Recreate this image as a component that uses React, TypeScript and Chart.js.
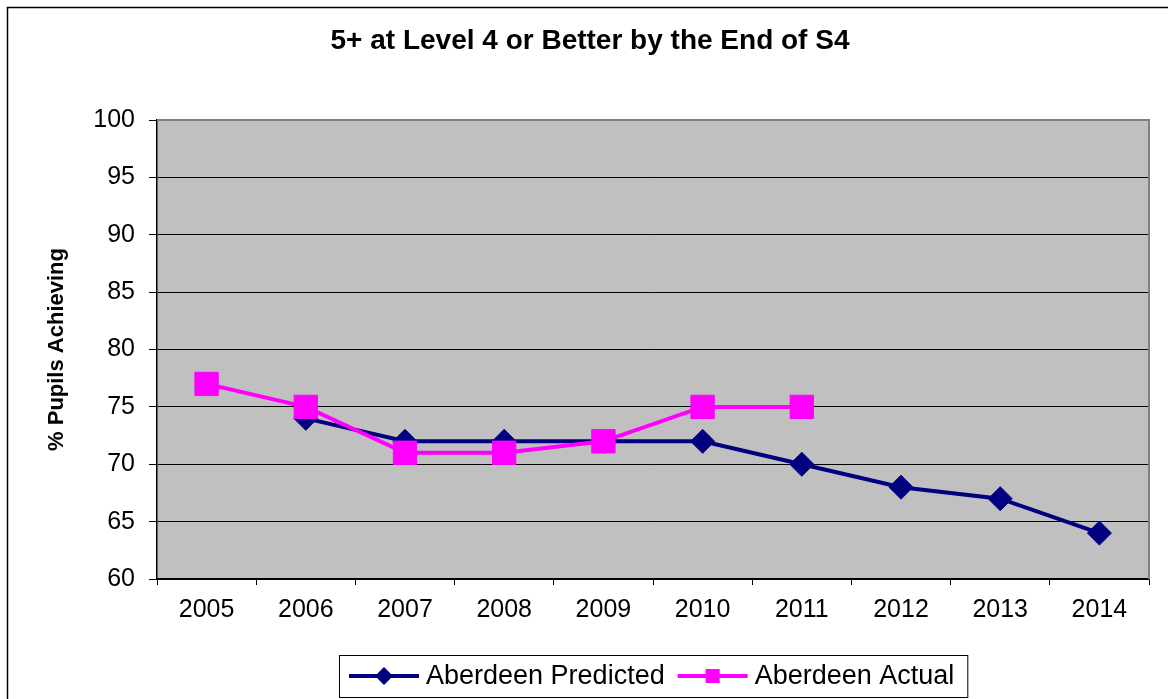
import { useEffect, useRef } from 'react';
import { Chart, registerables } from 'chart.js';

Chart.register(...registerables);

const years = ['2005', '2006', '2007', '2008', '2009', '2010', '2011', '2012', '2013', '2014'];
const predicted: (number | null)[] = [null, 74, 72, 72, 72, 72, 70, 68, 67, 64];
const actual: (number | null)[] = [77, 75, 71, 71, 72, 75, 75, null, null, null];
const seriesNames = ['Aberdeen Predicted', 'Aberdeen Actual'];
const chartTitle = '5+ at Level 4 or Better by the End of S4';
const yTitle = '% Pupils Achieving';
const yMin = 60;
const yMax = 100;
const yStep = 5;

const FONT = '"Liberation Sans", Arial, Helvetica, sans-serif';
const NAVY = '#000080';
const MAGENTA = '#FF00FF';

const framePlugin = {
  id: 'frameBg',
  beforeDraw(chart: any) {
    const { ctx, chartArea: a } = chart;
    ctx.save();
    ctx.fillStyle = '#C0C0C0';
    ctx.fillRect(a.left, a.top, a.right - a.left, a.bottom - a.top);
    ctx.strokeStyle = '#000';
    ctx.lineWidth = 1.5;
    ctx.beginPath();
    ctx.moveTo(7.5, chart.height + 2);
    ctx.lineTo(7.5, 7.5);
    ctx.lineTo(chart.width + 2, 7.5);
    ctx.stroke();
    ctx.restore();
  },
  beforeDatasetsDraw(chart: any) {
    const { ctx, chartArea: a } = chart;
    ctx.save();
    ctx.strokeStyle = '#808080';
    ctx.lineWidth = 2;
    ctx.beginPath();
    ctx.moveTo(a.left, a.top);
    ctx.lineTo(a.right, a.top);
    ctx.lineTo(a.right, a.bottom);
    ctx.stroke();
    ctx.restore();
  },
};

function drawMarker(ctx: CanvasRenderingContext2D, style: string, x: number, y: number, color: string) {
  ctx.fillStyle = color;
  ctx.beginPath();
  if (style === 'rectRot') {
    const r = 9;
    ctx.moveTo(x - r, y);
    ctx.lineTo(x, y - r);
    ctx.lineTo(x + r, y);
    ctx.lineTo(x, y + r);
    ctx.closePath();
  } else {
    const s = 14;
    ctx.rect(x - s / 2, y - s / 2, s, s);
  }
  ctx.fill();
}

const legendPlugin = {
  id: 'boxLegend',
  afterDraw(chart: any) {
    const { ctx, chartArea: a } = chart;
    ctx.save();
    ctx.font = `27px ${FONT}`;
    const datasets = chart.data.datasets;
    const widths = datasets.map((ds: any) => ctx.measureText(ds.label).width);
    const padL = 10;
    const lineLen = 70;
    const gap = 7;
    const itemGap = 13;
    const padR = 13;
    let total = padL + padR;
    widths.forEach((w: number, i: number) => {
      total += lineLen + gap + w + (i < widths.length - 1 ? itemGap : 0);
    });
    const top = 655;
    const h = 42;
    const cx = (a.left + a.right) / 2;
    const left = Math.round(cx - total / 2);
    ctx.fillStyle = '#fff';
    ctx.fillRect(left, top, total, h);
    ctx.strokeStyle = '#000';
    ctx.lineWidth = 1;
    ctx.strokeRect(left + 0.5, top + 0.5, total, h);
    const cy = top + h / 2;
    let x = left + padL;
    datasets.forEach((ds: any, i: number) => {
      ctx.strokeStyle = ds.borderColor;
      ctx.lineWidth = 4;
      ctx.beginPath();
      ctx.moveTo(x, cy);
      ctx.lineTo(x + lineLen, cy);
      ctx.stroke();
      drawMarker(ctx, ds.pointStyle, x + lineLen / 2, cy, ds.borderColor);
      x += lineLen + gap;
      ctx.fillStyle = '#000';
      ctx.textBaseline = 'middle';
      ctx.textAlign = 'left';
      ctx.fillText(ds.label, x, cy + 1);
      x += widths[i] + itemGap;
    });
    ctx.restore();
  },
};

export default function App() {
  const ref = useRef<HTMLCanvasElement | null>(null);

  useEffect(() => {
    document.body.style.margin = '0';
    const canvas = ref.current;
    if (!canvas) return;
    const chart = new Chart(canvas, {
      type: 'line',
      data: {
        labels: years,
        datasets: [
          {
            label: seriesNames[0],
            data: predicted,
            borderColor: NAVY,
            backgroundColor: NAVY,
            borderWidth: 4,
            pointStyle: 'rectRot',
            pointRadius: 12,
            pointHoverRadius: 12,
            pointBorderWidth: 1,
            pointBackgroundColor: NAVY,
            pointBorderColor: NAVY,
            tension: 0,
            spanGaps: false,
            order: 2,
          },
          {
            label: seriesNames[1],
            data: actual,
            borderColor: MAGENTA,
            backgroundColor: MAGENTA,
            borderWidth: 4,
            pointStyle: 'rect',
            pointRadius: 16.5,
            pointHoverRadius: 16.5,
            pointBorderWidth: 1,
            pointBackgroundColor: MAGENTA,
            pointBorderColor: MAGENTA,
            tension: 0,
            spanGaps: false,
            order: 1,
          },
        ],
      },
      options: {
        responsive: false,
        animation: false,
        layout: { padding: { left: 31, right: 19, top: 0, bottom: 59 } },
        plugins: {
          legend: { display: false },
          tooltip: { enabled: false },
          title: {
            display: true,
            text: chartTitle,
            color: '#000',
            font: { family: FONT, size: 28, weight: 'bold', lineHeight: 1.2 },
            padding: { top: 24.2, bottom: 62.2 },
          },
        },
        scales: {
          x: {
            type: 'category',
            offset: true,
            grid: {
              display: true,
              offset: true,
              drawOnChartArea: false,
              drawTicks: true,
              tickLength: 6,
              color: '#000',
              lineWidth: 1,
            },
            border: { display: true, color: '#000', width: 1.5 },
            ticks: {
              color: '#000',
              font: { family: FONT, size: 25, lineHeight: 1.2 },
              padding: 10,
              maxRotation: 0,
              autoSkip: false,
            },
            afterFit(scale: any) {
              scale.height = 61;
            },
          },
          y: {
            min: yMin,
            max: yMax,
            grid: {
              color: '#000',
              lineWidth: 1,
              tickLength: 8,
              drawTicks: true,
            },
            border: { display: true, color: '#000', width: 1.5 },
            ticks: {
              stepSize: yStep,
              color: '#000',
              font: { family: FONT, size: 25, lineHeight: 1.2 },
              padding: 14,
            },
            title: {
              display: true,
              text: yTitle,
              color: '#000',
              font: { family: FONT, size: 22, weight: 'bold', lineHeight: 1.2 },
              padding: { top: 12.8, bottom: 0 },
            },
            afterFit(scale: any) {
              scale.width = 126;
            },
          },
        },
      },
      plugins: [framePlugin, legendPlugin],
    });
    return () => chart.destroy();
  }, []);

  return (
    <div style={{ position: 'absolute', left: 0, top: 0, width: 1168, height: 699 }}>
      <canvas ref={ref} width={1168} height={699} style={{ display: 'block' }} />
    </div>
  );
}
